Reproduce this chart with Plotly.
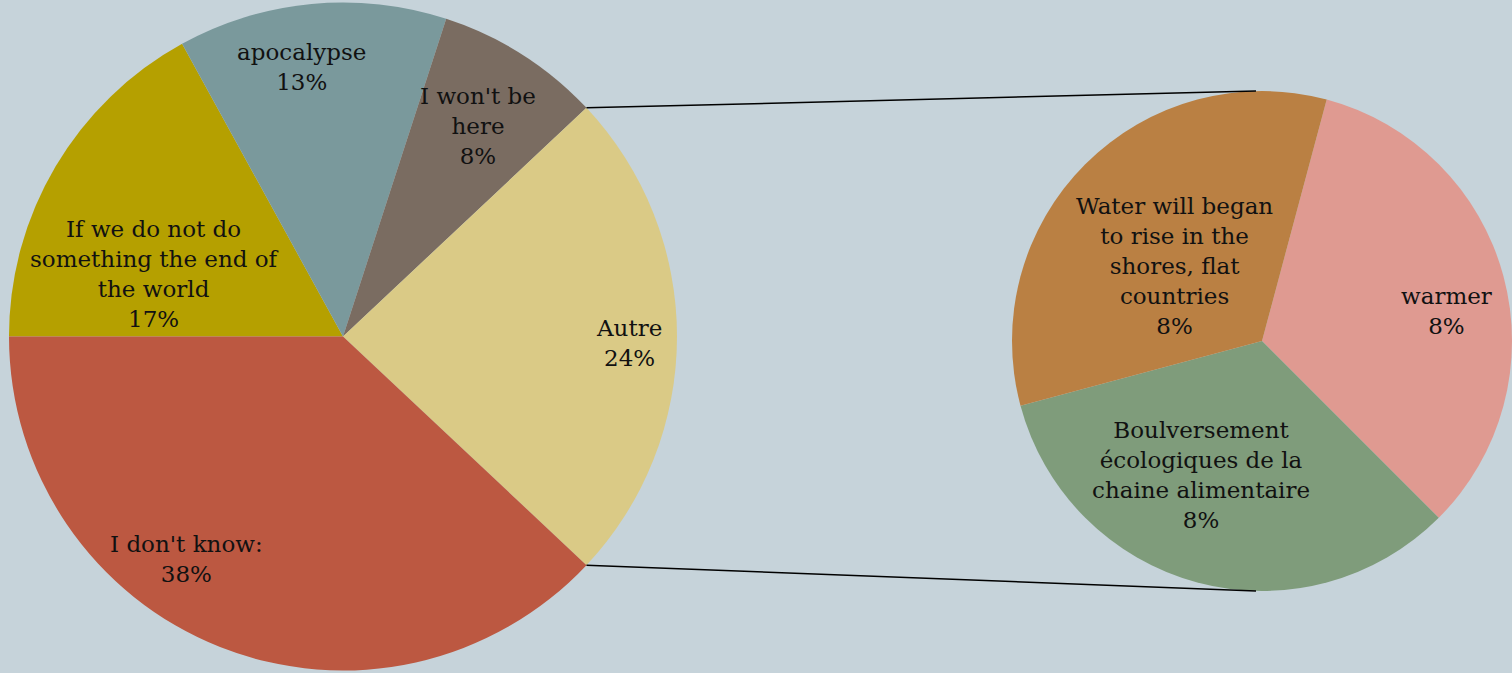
import math
import plotly.graph_objects as go

# Main pie: views on the future (clockwise from 9 o'clock)
main_labels = ["If we do not do<br>something the end of<br>the world", "apocalypse",
               "I won't be<br>here", "Autre", "I don't know:"]
main_values = [17, 13, 8, 24, 38]

# Breakdown of "Autre" (clockwise)
sub_labels = ["warmer", "Boulversement<br>écologiques de la<br>chaine alimentaire",
              "Water will began<br>to rise in the<br>shores, flat<br>countries"]
sub_values = [8, 8, 8]

# Styling
main_colors = ["#B5A000", "#7A999C", "#7A6C61", "#DACA86", "#BC5841"]
sub_colors = ["#DF9A91", "#7F9C7B", "#BA8043"]
BG = "#C6D3DA"
FONT = "DejaVu Serif"
FONT_SIZE = 23
W, H = 1512, 673

# Pie placement (pixels)
L_X0, L_X1, L_Y0, L_Y1 = 9, 677, 0, 673
R_X0, R_X1, R_Y0, R_Y1 = 1012, 1512, 91, 591

# Label placement: (angle offset from slice mid-angle in deg, radius fraction)
main_label_pos = [(-12.3, 0.593), (-3.3, 0.815), (0.3, 0.748), (1.4, 0.856), (13.5, 0.815)]
sub_label_pos = [(5.8, 0.746), (9.5, 0.587), (-4.4, 0.46)]

MAIN_START = 270.0   # 9 o'clock
SUB_START = 15.0


def geom(x0, x1, y0, y1):
    cx = (x0 + x1) / 2
    cy = (y0 + y1) / 2
    r = min(x1 - x0, y1 - y0) / 2
    return cx, cy, r


def slice_angles(values, start):
    total = sum(values)
    out = []
    a = start
    for v in values:
        b = a + 360.0 * v / total
        out.append((a, b))
        a = b
    return out


def to_paper(px, py):
    return px / W, 1 - py / H


def polar(cx, cy, r, ang):
    t = math.radians(ang)
    return cx + r * math.sin(t), cy - r * math.cos(t)


fig = go.Figure()

fig.add_trace(go.Pie(
    labels=main_labels, values=main_values, sort=False,
    direction="clockwise", rotation=MAIN_START,
    marker=dict(colors=main_colors, line=dict(width=0)),
    textinfo="none", hoverinfo="skip", showlegend=False,
    domain=dict(x=[L_X0 / W, L_X1 / W], y=[1 - L_Y1 / H, 1 - L_Y0 / H]),
))

fig.add_trace(go.Pie(
    labels=sub_labels, values=sub_values, sort=False,
    direction="clockwise", rotation=SUB_START,
    marker=dict(colors=sub_colors, line=dict(width=0)),
    textinfo="none", hoverinfo="skip", showlegend=False,
    domain=dict(x=[R_X0 / W, R_X1 / W], y=[1 - R_Y1 / H, 1 - R_Y0 / H]),
))

annotations = []
shapes = []


def add_labels(labels, values, start, box, pos):
    cx, cy, r = geom(*box)
    for lab, val, (a, b), (off, frac) in zip(labels, values, slice_angles(values, start), pos):
        mid = (a + b) / 2 + off
        px, py = polar(cx, cy, r * frac, mid)
        x, y = to_paper(px, py)
        annotations.append(dict(
            x=x, y=y, xref="paper", yref="paper", showarrow=False,
            text=f"{lab}<br>{val}%", align="center",
            xanchor="center", yanchor="middle",
            font=dict(family=FONT, size=FONT_SIZE, color="#111111"),
        ))


add_labels(main_labels, main_values, MAIN_START, (L_X0, L_X1, L_Y0, L_Y1), main_label_pos)
add_labels(sub_labels, sub_values, SUB_START, (R_X0, R_X1, R_Y0, R_Y1), sub_label_pos)

# Connector lines from the "Autre" slice edges to the top and bottom of the breakdown pie
lcx, lcy, lr = geom(L_X0, L_X1, L_Y0, L_Y1)
rcx, rcy, rr = geom(R_X0, R_X1, R_Y0, R_Y1)
a_start, a_end = slice_angles(main_values, MAIN_START)[main_labels.index("Autre")]
for ang, target in ((a_start, 0.0), (a_end, 180.0)):
    p0 = polar(lcx, lcy, lr, ang)
    p1 = polar(rcx - 6, rcy, rr, target)
    x0, y0 = to_paper(*p0)
    x1, y1 = to_paper(*p1)
    shapes.append(dict(type="line", xref="paper", yref="paper",
                       x0=x0, y0=y0, x1=x1, y1=y1,
                       line=dict(color="#000000", width=1.5)))

fig.update_layout(
    width=W, height=H, autosize=False,
    margin=dict(l=0, r=0, t=0, b=0),
    paper_bgcolor=BG, plot_bgcolor=BG,
    annotations=annotations, shapes=shapes,
    showlegend=False,
)

fig.write_html("out.html", config={"displayModeBar": False})
